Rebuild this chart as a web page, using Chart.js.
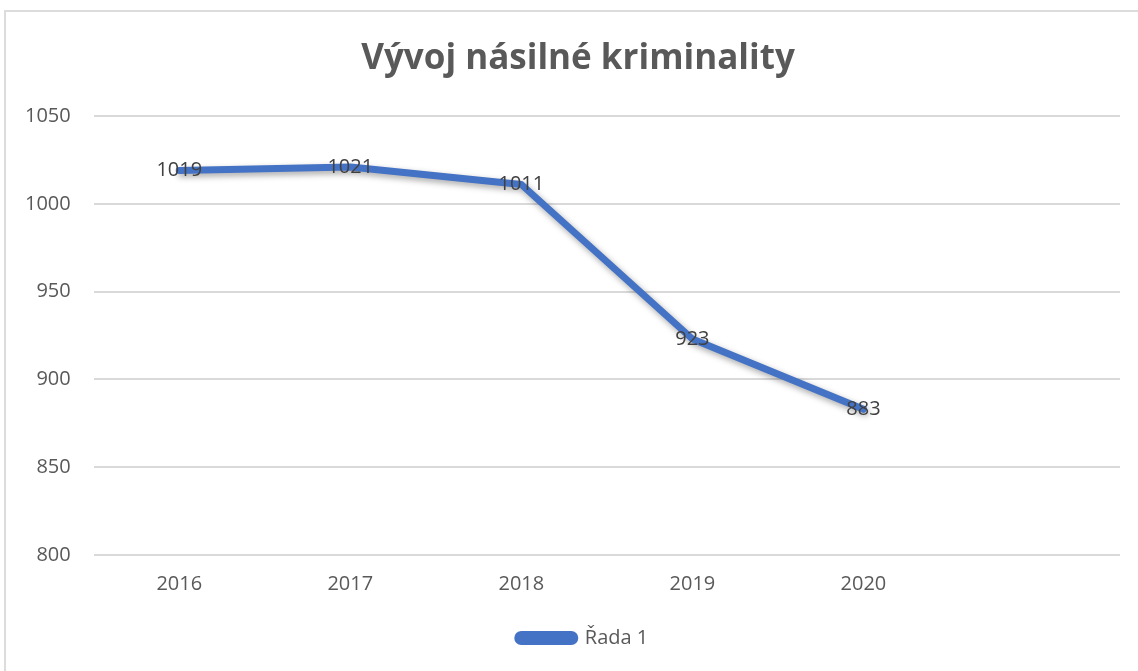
<!DOCTYPE html>
<html>
<head>
<meta charset="utf-8">
<script src="https://cdn.jsdelivr.net/npm/chart.js@4"></script>
<style>
    html, body { margin: 0; padding: 0; background: #fff; overflow: hidden; }
    #wrap { position: relative; width: 1138px; height: 671px; }
    #frame {
        position: absolute; left: 4px; top: 10px; width: 1200px; height: 700px;
        border: 2px solid #dcdcdc; box-sizing: border-box; pointer-events: none;
    }
    canvas { position: absolute; left: 0; top: 0; }
</style>
</head>
<body>
<div id="wrap">
    <canvas id="crime-chart" width="1138" height="671"></canvas>
    <div id="frame"></div>
</div>
<script>
const years = ['2016', '2017', '2018', '2019', '2020', ''];
const cases = [1019, 1021, 1011, 923, 883, null];
const seriesName = 'Řada 1';
const chartTitle = 'Vývoj násilné kriminality';

const FONT = "'Open Sans', 'Noto Sans', sans-serif";

// soft drop shadow under the line, like the Office chart
const lineShadow = {
    id: 'lineShadow',
    beforeDatasetDraw(chart) {
        const ctx = chart.ctx;
        ctx.save();
        ctx.shadowColor = 'rgba(0, 0, 0, 0.35)';
        ctx.shadowBlur = 6;
        ctx.shadowOffsetX = 2;
        ctx.shadowOffsetY = 3;
    },
    afterDatasetDraw(chart) {
        chart.ctx.restore();
    },
};

// Office centres title and legend over the whole frame, not the padded box
const nudgeBoxes = {
    id: 'nudgeBoxes',
    afterLayout(chart) {
        if (chart.titleBlock) {
            chart.titleBlock.left += 17;
            chart.titleBlock.right += 17;
        }
        if (chart.legend) {
            chart.legend.left += 22;
            chart.legend.right += 22;
        }
    },
};

// value labels centred on each point
const valueLabels = {
    id: 'valueLabels',
    afterDatasetsDraw(chart) {
        const ctx = chart.ctx;
        const meta = chart.getDatasetMeta(0);
        ctx.save();
        ctx.font = `20px ${FONT}`;
        ctx.fillStyle = '#404040';
        ctx.textAlign = 'center';
        ctx.textBaseline = 'middle';
        meta.data.forEach((pt, i) => {
            const v = cases[i];
            if (v == null) {
                return;
            }
            ctx.fillText(String(v), pt.x, pt.y);
        });
        ctx.restore();
    },
};

new Chart(document.getElementById('crime-chart').getContext('2d'), {
    type: 'line',
    data: {
        labels: years,
        datasets: [
            {
                label: seriesName,
                data: cases,
                borderColor: '#4472c4',
                backgroundColor: '#4472c4',
                borderWidth: 7,
                borderJoinStyle: 'round',
                borderCapStyle: 'round',
                pointRadius: 0,
                tension: 0,
                fill: false,
            },
        ],
    },
    options: {
        responsive: false,
        animation: false,
        layout: { padding: { top: 18, left: 2, right: 18, bottom: 13 } },
        plugins: {
            title: {
                display: true,
                text: chartTitle,
                color: '#595959',
                font: { family: FONT, size: 35, weight: 'bold' },
                padding: { top: 20, bottom: 36 },
            },
            legend: {
                position: 'bottom',
                labels: {
                    color: '#595959',
                    font: { family: FONT, size: 20 },
                    boxWidth: 57,
                    boxHeight: 7,
                    useBorderRadius: true,
                    borderRadius: 3.5,
                    padding: 23,
                },
            },
            tooltip: { enabled: false },
        },
        scales: {
            x: {
                offset: true,
                grid: { display: false },
                border: { display: false },
                ticks: {
                    color: '#595959',
                    font: { family: FONT, size: 20 },
                    padding: 9,
                    maxRotation: 0,
                },
            },
            y: {
                min: 800,
                max: 1050,
                ticks: {
                    stepSize: 50,
                    color: '#595959',
                    font: { family: FONT, size: 20 },
                    padding: 23,
                    callback: (v) => String(v),
                },
                grid: { color: '#d9d9d9', lineWidth: 2, drawTicks: false },
                border: { display: false },
            },
        },
    },
    plugins: [lineShadow, nudgeBoxes, valueLabels],
});
</script>
</body>
</html>
